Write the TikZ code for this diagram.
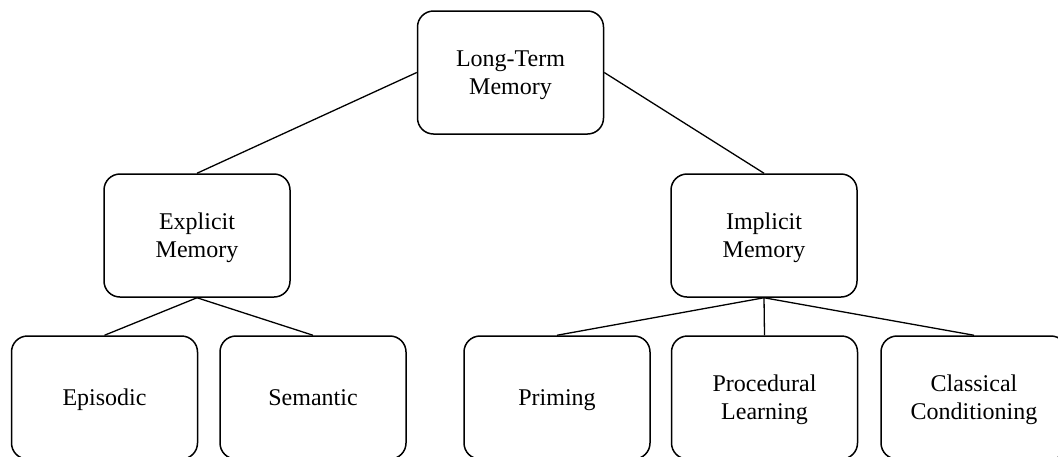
\documentclass[tikz,border=0pt]{standalone}
\usepackage{fontspec}
\setmainfont{Liberation Serif}
\newcommand{\nodepth}[1]{\raisebox{0pt}[\height][0pt]{#1}}
\begin{document}
\begin{tikzpicture}[x=0.5pt,y=-0.5pt,
  box/.style={draw, rounded corners=8pt, line width=0.75pt, minimum width=93pt,
    minimum height=61.5pt, align=center, inner sep=0pt,
    font=\fontsize{12}{14}\selectfont},
  conn/.style={line width=0.65pt}]
\useasboundingbox (0,0) rectangle (1058,456);
\clip (0,0) rectangle (1058,456);
\node[box] (ltm) at (510.5,72.5) {Long-Term\\\nodepth{Memory}};
\node[box] (exp) at (197,235.5) {Explicit\\\nodepth{Memory}};
\node[box] (imp) at (764,235.5) {Implicit\\\nodepth{Memory}};
\node[box] (epi) at (104.5,397.5) {\nodepth{Episodic}};
\node[box] (sem) at (313,397.5) {Semantic};
\node[box] (pri) at (557,397.5) {\nodepth{Priming}};
\node[box] (pro) at (764.5,397.5) {Procedural\\\nodepth{Learning}};
\node[box] (cla) at (974,397.5) {Classical\\\nodepth{Conditioning}};
\draw[conn] (ltm.west) -- (exp.north);
\draw[conn] (ltm.east) -- (imp.north);
\draw[conn] (exp.south) -- (epi.north);
\draw[conn] (exp.south) -- (sem.north);
\draw[conn] (imp.south) -- (pri.north);
\draw[conn] (imp.south) -- (pro.north);
\draw[conn] (imp.south) -- (cla.north);
\end{tikzpicture}
\end{document}
